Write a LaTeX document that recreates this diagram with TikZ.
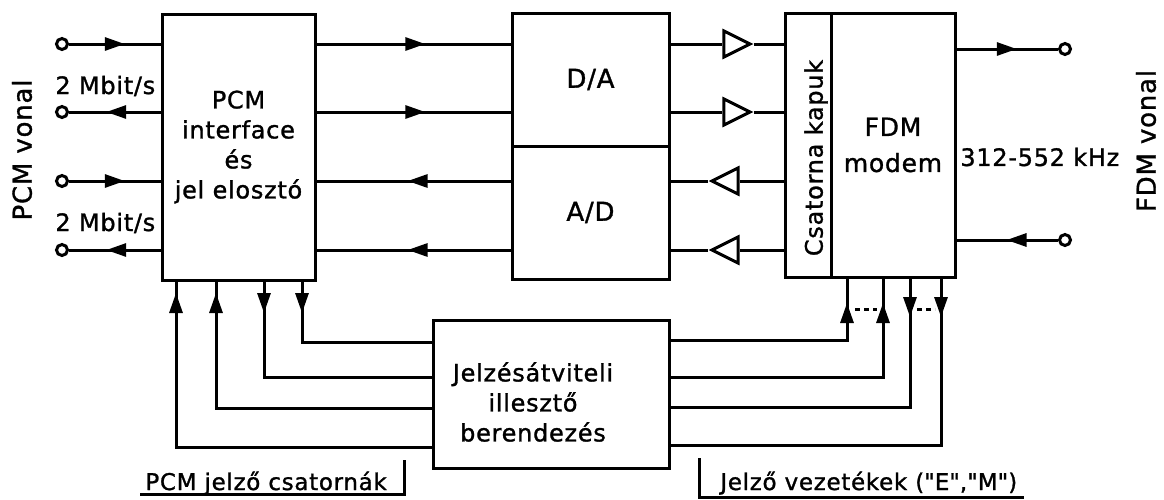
\documentclass[tikz,border=0pt]{standalone}
\usepackage{fontspec}
\setmainfont{DejaVu Sans}[FakeBold=1.2, LetterSpace=3]
\usetikzlibrary{arrows.meta,decorations.markings,shapes.geometric}

\tikzset{
  >={Triangle[length=10pt,width=6.5pt]},
  blk/.style={draw, line width=1.5pt, inner sep=0pt, outer sep=0pt, align=center, font=\fontsize{12}{15}\selectfont},
  sig/.style={line width=1.5pt},
  term/.style={circle, draw, line width=1.5pt, fill=white, inner sep=0pt, minimum size=5.5pt},
  amp/.style={isosceles triangle, isosceles triangle stretches, draw, line width=1.5pt, inner sep=0pt, minimum width=13pt, minimum height=13pt},
  tipat/.style={postaction={decorate}, decoration={markings, mark=at position #1 with {\arrow{>}}}},
  lbl/.style={inner sep=0pt, font=\fontsize{12}{15}\selectfont},
  side/.style={inner sep=0pt, rotate=90, font=\fontsize{13}{15}\selectfont},
  gap/.style={line width=1.5pt, dash pattern=on 2.5pt off 2pt},
}

\begin{document}
\begin{tikzpicture}[x=0.5pt,y=-0.5pt]
    \useasboundingbox (0,0) rectangle (1164,499);
    % blocks
    \node[blk, minimum width=76.5pt, minimum height=133pt] (pcm) at (238.5,147) {PCM\\interface\\és\\jel elosztó};
    \node[blk, minimum width=78.5pt, minimum height=66.5pt, font=\fontsize{13}{15}\selectfont] (da) at (590.5,79.5) {D/A};
    \node[blk, minimum width=78.5pt, minimum height=66.5pt, font=\fontsize{13}{15}\selectfont] (ad) at (590.5,212.5) {A/D};
    \node[blk, minimum width=23pt, minimum height=132pt] (csat) at (808,145) {};
    \node[side, font=\fontsize{12}{15}\selectfont] (csatlbl) at (816,158) {Csatorna kapuk};
    \node[blk, minimum width=62pt, minimum height=132pt, font=\fontsize{12.5}{18}\selectfont] (fdm) at (893,145) {FDM\\modem};
    \node[blk, minimum width=118pt, minimum height=74pt] (jelz) at (551,394) {};
    \node[lbl, align=center] (jelzlbl) at (533,402) {Jelzésátviteli\\illesztő\\berendezés};
    % terminals
    \node[term] (inA) at (62,44) {};
    \node[term] (inB) at (62,112) {};
    \node[term] (inC) at (62,181) {};
    \node[term] (inD) at (62,250) {};
    \node[term] (outA) at (1065,49) {};
    \node[term] (outB) at (1065,240) {};
    % amplifiers
    \node[amp] (ampA) at (732,44) {};
    \node[amp] (ampB) at (732,112) {};
    \node[amp, shape border rotate=180] (ampC) at (730,181) {};
    \node[amp, shape border rotate=180] (ampD) at (730,250) {};
    % side texts
    \node[lbl, anchor=west] (rateA) at (55,86) {2 Mbit/s};
    \node[lbl, anchor=west] (rateB) at (55,223) {2 Mbit/s};
    \node[side] (pcmvon) at (22,150) {PCM vonal};
    \node[side] (fdmvon) at (1146,141) {FDM vonal};
    \node[lbl, anchor=west] (freq) at (960,157) {312-552 kHz};
    % PCM line
    \draw[sig, tipat=0.6] (inA) -- (inA -| pcm.west);
    \draw[sig, tipat=0.6] (inB -| pcm.west) -- (inB);
    \draw[sig, tipat=0.6] (inC) -- (inC -| pcm.west);
    \draw[sig, tipat=0.6] (inD -| pcm.west) -- (inD);
    % PCM <-> converters
    \draw[sig, tipat=0.56] (pcm.east |- inA) -- (da.west |- inA);
    \draw[sig, tipat=0.56] (pcm.east |- inB) -- (da.west |- inB);
    \draw[sig, tipat=0.53] (ad.west |- inC) -- (pcm.east |- inC);
    \draw[sig, tipat=0.53] (ad.west |- inD) -- (pcm.east |- inD);
    % converters <-> gates
    \draw[sig] (da.east |- ampA) -- (ampA) -- (csat.west |- ampA);
    \draw[sig] (da.east |- ampB) -- (ampB) -- (csat.west |- ampB);
    \draw[sig] (csat.west |- ampC) -- (ampC) -- (ad.east |- ampC);
    \draw[sig] (csat.west |- ampD) -- (ampD) -- (ad.east |- ampD);
    % FDM line
    \draw[sig, tipat=0.6] (fdm.east |- outA) -- (outA);
    \draw[sig, tipat=0.5] (outB) -- (fdm.east |- outB);
    % signalling wires
    \coordinate (pa) at (176,447); \coordinate (pb) at (216,408);
    \coordinate (pc) at (264,377); \coordinate (pd) at (302,342);
    \coordinate (qa) at (847,340); \coordinate (qb) at (883,377);
    \coordinate (qc) at (910,407); \coordinate (qd) at (941,445);
    \draw[sig, tipat=-6.5pt] (jelz.west |- pa) -| (pcm.south -| pa);
    \draw[sig, tipat=-6.5pt] (jelz.west |- pb) -| (pcm.south -| pb);
    \draw[sig, tipat=16.5pt] (pcm.south -| pc) |- (jelz.west |- pc);
    \draw[sig, tipat=16.5pt] (pcm.south -| pd) |- (jelz.west |- pd);
    \draw[sig, tipat=-13pt] (jelz.east |- qa) -| (fdm.south -| qa);
    \draw[sig, tipat=-13pt] (jelz.east |- qb) -| (fdm.south -| qb);
    \draw[sig, tipat=20pt] (fdm.south -| qc) |- (jelz.east |- qc);
    \draw[sig, tipat=20pt] (fdm.south -| qd) |- (jelz.east |- qd);
    \draw[gap] (855,309) -- (877,309);
    \draw[gap] (917,309) -- (935,309);
    % bottom labels
    \node[lbl, anchor=base west, font=\fontsize{11.5}{14}\selectfont] (pcmjel) at (145,490) {PCM jelző csatornák};
    \draw[sig] (140,494) -| (404,460);
    \node[lbl, anchor=base west, font=\fontsize{11.5}{14}\selectfont] (vezet) at (720,490) {Jelző vezetékek (\textquotedbl E\textquotedbl,\textquotedbl M\textquotedbl)};
    \draw[sig] (699,458) |- (1024,497);
\end{tikzpicture}
\end{document}
